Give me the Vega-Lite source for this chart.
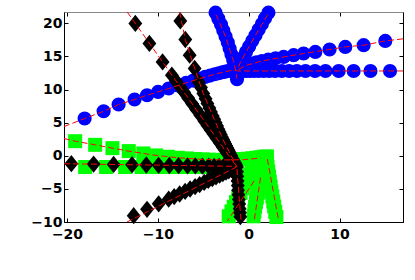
{
  "$schema": "https://vega.github.io/schema/vega-lite/v6.json",
  "width": 339,
  "height": 210,
  "autosize": {"type": "none"},
  "padding": {"left": 64, "top": 12, "right": 12, "bottom": 58},
  "background": "white",
  "config": {
    "view": {"stroke": "#888888", "strokeWidth": 1},
    "axis": {
      "grid": false,
      "domainColor": "#000000",
      "tickColor": "#000000",
      "tickSize": -4,
      "labelFont": "DejaVu Sans",
      "labelFontWeight": "bold",
      "labelFontSize": 14,
      "labelColor": "#000000",
      "title": null
    }
  },
  "datasets": {
    "blue": [
      {"x": -18.06, "y": 5.62}, {"x": -15.97, "y": 6.72}, {"x": -14.32, "y": 7.73}, {"x": -12.56, "y": 8.49}, {"x": -11.19, "y": 9.14}, {"x": -9.98, "y": 9.64}, {"x": -8.81, "y": 10.15}, {"x": -7.8, "y": 10.6}, {"x": -6.9, "y": 11.0}, {"x": -6.1, "y": 11.35}, {"x": -5.4, "y": 11.65}, {"x": -4.8, "y": 11.9}, {"x": -4.25, "y": 12.1}, {"x": -3.75, "y": 12.3}, {"x": -3.3, "y": 12.45}, {"x": -2.9, "y": 12.6}, {"x": -2.55, "y": 12.7}, {"x": -2.25, "y": 12.8}, {"x": -2.0, "y": 12.85}, {"x": -1.8, "y": 12.9}, {"x": -1.6, "y": 12.9}, {"x": -1.45, "y": 12.9},
      {"x": 15.03, "y": 17.34}, {"x": 12.65, "y": 16.69}, {"x": 10.63, "y": 16.43}, {"x": 8.9, "y": 16.04}, {"x": 7.33, "y": 15.68}, {"x": 6.04, "y": 15.44}, {"x": 4.94, "y": 15.18}, {"x": 3.84, "y": 14.92}, {"x": 2.95, "y": 14.7}, {"x": 2.15, "y": 14.5}, {"x": 1.45, "y": 14.3}, {"x": 0.85, "y": 14.1}, {"x": 0.3, "y": 13.9}, {"x": -0.15, "y": 13.7}, {"x": -0.5, "y": 13.5}, {"x": -0.8, "y": 13.3}, {"x": -1.05, "y": 13.1}, {"x": -1.25, "y": 12.95},
      {"x": 15.55, "y": 12.8}, {"x": 13.4, "y": 12.8}, {"x": 11.55, "y": 12.8}, {"x": 9.9, "y": 12.8}, {"x": 8.45, "y": 12.8}, {"x": 7.3, "y": 12.8}, {"x": 6.25, "y": 12.8}, {"x": 5.3, "y": 12.8}, {"x": 4.45, "y": 12.8}, {"x": 3.65, "y": 12.8}, {"x": 2.9, "y": 12.8}, {"x": 2.25, "y": 12.8}, {"x": 1.65, "y": 12.8}, {"x": 1.1, "y": 12.8}, {"x": 0.6, "y": 12.8}, {"x": 0.15, "y": 12.8}, {"x": -0.25, "y": 12.8}, {"x": -0.6, "y": 12.8}, {"x": -0.9, "y": 12.8}, {"x": -1.15, "y": 12.8}, {"x": -1.3, "y": 12.8},
      {"x": -3.65, "y": 21.6}, {"x": -3.35, "y": 20.7}, {"x": -3.05, "y": 19.8}, {"x": -2.8, "y": 18.9}, {"x": -2.55, "y": 18.0}, {"x": -2.3, "y": 17.1}, {"x": -2.1, "y": 16.2}, {"x": -1.9, "y": 15.3}, {"x": -1.7, "y": 14.4}, {"x": -1.55, "y": 13.6}, {"x": -1.42, "y": 12.8}, {"x": -1.35, "y": 12.1}, {"x": -1.29, "y": 11.56},
      {"x": 2.17, "y": 21.6}, {"x": 1.8, "y": 20.75}, {"x": 1.45, "y": 19.9}, {"x": 1.1, "y": 19.05}, {"x": 0.75, "y": 18.2}, {"x": 0.4, "y": 17.35}, {"x": 0.05, "y": 16.5}, {"x": -0.3, "y": 15.65}, {"x": -0.6, "y": 14.85}, {"x": -0.9, "y": 14.15}, {"x": -1.1, "y": 13.5}, {"x": -1.25, "y": 13.0}
    ],
    "green": [
      {"x": -19.1, "y": 2.2}, {"x": -16.9, "y": 1.65}, {"x": -15.0, "y": 1.15}, {"x": -13.2, "y": 0.7}, {"x": -11.6, "y": 0.35}, {"x": -10.2, "y": 0.05}, {"x": -8.9, "y": -0.15}, {"x": -7.8, "y": -0.3}, {"x": -6.8, "y": -0.4}, {"x": -5.9, "y": -0.5}, {"x": -5.1, "y": -0.55}, {"x": -4.4, "y": -0.6}, {"x": -3.75, "y": -0.62}, {"x": -3.15, "y": -0.63}, {"x": -2.6, "y": -0.63}, {"x": -2.1, "y": -0.62}, {"x": -1.6, "y": -0.6}, {"x": -1.1, "y": -0.55}, {"x": -0.6, "y": -0.5}, {"x": -0.1, "y": -0.45}, {"x": 0.4, "y": -0.38}, {"x": 0.85, "y": -0.3}, {"x": 1.3, "y": -0.22}, {"x": 1.7, "y": -0.15}, {"x": 2.0, "y": -0.1},
      {"x": -18.0, "y": -1.7}, {"x": -15.7, "y": -1.7}, {"x": -13.6, "y": -1.7}, {"x": -11.8, "y": -1.7}, {"x": -10.3, "y": -1.7}, {"x": -9.0, "y": -1.7}, {"x": -7.9, "y": -1.7}, {"x": -6.9, "y": -1.7}, {"x": -6.0, "y": -1.7}, {"x": -5.2, "y": -1.7}, {"x": -4.5, "y": -1.7}, {"x": -3.9, "y": -1.7}, {"x": -3.3, "y": -1.7}, {"x": -2.8, "y": -1.7}, {"x": -2.3, "y": -1.7}, {"x": -1.9, "y": -1.7}, {"x": -1.5, "y": -1.7},
      {"x": 1.95, "y": -0.2}, {"x": 2.0, "y": -0.9}, {"x": 2.07, "y": -1.65}, {"x": 2.15, "y": -2.4}, {"x": 2.23, "y": -3.15}, {"x": 2.32, "y": -3.9}, {"x": 2.41, "y": -4.65}, {"x": 2.5, "y": -5.4}, {"x": 2.6, "y": -6.15}, {"x": 2.7, "y": -6.9}, {"x": 2.8, "y": -7.65}, {"x": 2.92, "y": -8.45}, {"x": 3.05, "y": -9.25},
      {"x": 1.2, "y": -0.7}, {"x": 0.8, "y": -1.3},
      {"x": 1.55, "y": -1.4}, {"x": 1.47, "y": -2.1}, {"x": 1.38, "y": -2.8}, {"x": 1.29, "y": -3.5}, {"x": 1.2, "y": -4.2}, {"x": 1.1, "y": -4.9}, {"x": 1.0, "y": -5.6}, {"x": 0.9, "y": -6.3}, {"x": 0.8, "y": -7.0}, {"x": 0.7, "y": -7.7}, {"x": 0.62, "y": -8.4}, {"x": 0.54, "y": -9.14},
      {"x": 0.35, "y": -2.1}, {"x": 0.1, "y": -2.8}, {"x": -0.15, "y": -3.5}, {"x": -0.4, "y": -4.2}, {"x": -0.65, "y": -4.9}, {"x": -0.9, "y": -5.6}, {"x": -1.15, "y": -6.3}, {"x": -1.4, "y": -7.0}, {"x": -1.65, "y": -7.7}, {"x": -1.9, "y": -8.4}, {"x": -2.2, "y": -9.14}
    ],
    "black": [
      {"x": -12.48, "y": 19.97}, {"x": -10.93, "y": 16.96}, {"x": -9.48, "y": 14.16}, {"x": -8.46, "y": 12.17}, {"x": -8.01, "y": 11.3}, {"x": -7.56, "y": 10.43}, {"x": -7.11, "y": 9.57}, {"x": -6.67, "y": 8.7}, {"x": -6.22, "y": 7.84}, {"x": -5.77, "y": 6.97}, {"x": -5.32, "y": 6.1}, {"x": -4.88, "y": 5.23}, {"x": -4.54, "y": 4.58}, {"x": -4.21, "y": 3.93}, {"x": -3.87, "y": 3.28}, {"x": -3.54, "y": 2.63}, {"x": -3.2, "y": 1.98}, {"x": -2.87, "y": 1.33}, {"x": -2.64, "y": 0.9}, {"x": -2.42, "y": 0.47}, {"x": -2.19, "y": 0.03}, {"x": -1.97, "y": -0.4}, {"x": -1.75, "y": -0.83}, {"x": -1.52, "y": -1.27}, {"x": -1.3, "y": -1.7},
      {"x": -7.53, "y": 20.36}, {"x": -6.98, "y": 17.55}, {"x": -6.5, "y": 15.18}, {"x": -5.95, "y": 13.17}, {"x": -5.51, "y": 11.15}, {"x": -5.25, "y": 10.3}, {"x": -5.0, "y": 9.4}, {"x": -4.75, "y": 8.6}, {"x": -4.55, "y": 7.9}, {"x": -4.33, "y": 7.2}, {"x": -4.15, "y": 6.6}, {"x": -3.96, "y": 6.0}, {"x": -3.8, "y": 5.5}, {"x": -3.64, "y": 5.0}, {"x": -3.48, "y": 4.5}, {"x": -3.34, "y": 4.0}, {"x": -3.2, "y": 3.6}, {"x": -3.07, "y": 3.2}, {"x": -2.94, "y": 2.8}, {"x": -2.82, "y": 2.45}, {"x": -2.7, "y": 2.1}, {"x": -2.59, "y": 1.8}, {"x": -2.48, "y": 1.5}, {"x": -2.37, "y": 1.2}, {"x": -2.28, "y": 0.95}, {"x": -2.19, "y": 0.7}, {"x": -2.1, "y": 0.45}, {"x": -2.01, "y": 0.2}, {"x": -1.93, "y": 0.0}, {"x": -1.78, "y": -0.4}, {"x": -1.64, "y": -0.75}, {"x": -1.52, "y": -1.05}, {"x": -1.43, "y": -1.3}, {"x": -1.36, "y": -1.5},
      {"x": -19.52, "y": -1.2}, {"x": -17.07, "y": -1.26}, {"x": -14.87, "y": -1.31}, {"x": -12.84, "y": -1.36}, {"x": -11.27, "y": -1.4}, {"x": -9.92, "y": -1.44}, {"x": -8.74, "y": -1.47}, {"x": -7.72, "y": -1.49}, {"x": -6.73, "y": -1.52}, {"x": -5.88, "y": -1.54}, {"x": -5.1, "y": -1.56}, {"x": -4.4, "y": -1.57}, {"x": -3.8, "y": -1.59}, {"x": -3.25, "y": -1.6}, {"x": -2.75, "y": -1.61}, {"x": -2.3, "y": -1.62}, {"x": -1.9, "y": -1.63}, {"x": -1.6, "y": -1.64}, {"x": -1.4, "y": -1.65},
      {"x": -12.66, "y": -9.04}, {"x": -11.19, "y": -8.09}, {"x": -9.91, "y": -7.26}, {"x": -8.81, "y": -6.55}, {"x": -8.2, "y": -6.16}, {"x": -7.6, "y": -5.77}, {"x": -7.0, "y": -5.38}, {"x": -6.45, "y": -5.02}, {"x": -5.9, "y": -4.67}, {"x": -5.4, "y": -4.35}, {"x": -4.9, "y": -4.02}, {"x": -4.45, "y": -3.73}, {"x": -4.0, "y": -3.44}, {"x": -3.6, "y": -3.18}, {"x": -3.2, "y": -2.93}, {"x": -2.85, "y": -2.7}, {"x": -2.5, "y": -2.47}, {"x": -2.2, "y": -2.28}, {"x": -1.9, "y": -2.09}, {"x": -1.65, "y": -1.93}, {"x": -1.45, "y": -1.8},
      {"x": -1.28, "y": -2.4}, {"x": -1.26, "y": -3.1}, {"x": -1.23, "y": -3.8}, {"x": -1.2, "y": -4.5}, {"x": -1.17, "y": -5.2}, {"x": -1.13, "y": -5.9}, {"x": -1.09, "y": -6.6}, {"x": -1.05, "y": -7.3}, {"x": -1.0, "y": -8.0}, {"x": -0.96, "y": -8.6}, {"x": -0.92, "y": -9.2}
    ],
    "red": [
      {"p": "bA", "i": 0, "x": -20.33, "y": 4.4}, {"p": "bA", "i": 1, "x": -18.06, "y": 5.62}, {"p": "bA", "i": 2, "x": -15.97, "y": 6.72}, {"p": "bA", "i": 3, "x": -14.32, "y": 7.73}, {"p": "bA", "i": 4, "x": -12.56, "y": 8.49}, {"p": "bA", "i": 5, "x": -11.19, "y": 9.14}, {"p": "bA", "i": 6, "x": -9.98, "y": 9.64}, {"p": "bA", "i": 7, "x": -8.81, "y": 10.15}, {"p": "bA", "i": 8, "x": -6.9, "y": 11.0}, {"p": "bA", "i": 9, "x": -4.8, "y": 11.9}, {"p": "bA", "i": 10, "x": -3.3, "y": 12.45}, {"p": "bA", "i": 11, "x": -2.0, "y": 12.85}, {"p": "bA", "i": 12, "x": -1.3, "y": 12.9},
      {"p": "bB", "i": 0, "x": 16.98, "y": 17.65}, {"p": "bB", "i": 1, "x": 15.03, "y": 17.34}, {"p": "bB", "i": 2, "x": 12.65, "y": 16.69}, {"p": "bB", "i": 3, "x": 10.63, "y": 16.43}, {"p": "bB", "i": 4, "x": 8.9, "y": 16.04}, {"p": "bB", "i": 5, "x": 6.04, "y": 15.44}, {"p": "bB", "i": 6, "x": 3.84, "y": 14.92}, {"p": "bB", "i": 7, "x": 1.45, "y": 14.3}, {"p": "bB", "i": 8, "x": -0.15, "y": 13.7}, {"p": "bB", "i": 9, "x": -1.25, "y": 12.95},
      {"p": "bC", "i": 0, "x": 16.98, "y": 12.8}, {"p": "bC", "i": 1, "x": -1.3, "y": 12.8},
      {"p": "bD", "i": 0, "x": -3.6, "y": 21.3}, {"p": "bD", "i": 1, "x": -2.55, "y": 18.0}, {"p": "bD", "i": 2, "x": -1.7, "y": 14.4}, {"p": "bD", "i": 3, "x": -1.42, "y": 12.8}, {"p": "bD", "i": 4, "x": -1.3, "y": 11.6},
      {"p": "bE", "i": 0, "x": 2.1, "y": 21.3}, {"p": "bE", "i": 1, "x": 1.1, "y": 19.05}, {"p": "bE", "i": 2, "x": 0.05, "y": 16.5}, {"p": "bE", "i": 3, "x": -0.9, "y": 14.15}, {"p": "bE", "i": 4, "x": -1.25, "y": 13.0},
      {"p": "gU", "i": 0, "x": -20.33, "y": 2.6}, {"p": "gU", "i": 1, "x": -19.1, "y": 2.2}, {"p": "gU", "i": 2, "x": -16.9, "y": 1.65}, {"p": "gU", "i": 3, "x": -15.0, "y": 1.15}, {"p": "gU", "i": 4, "x": -13.2, "y": 0.7}, {"p": "gU", "i": 5, "x": -11.6, "y": 0.35}, {"p": "gU", "i": 6, "x": -10.2, "y": 0.05}, {"p": "gU", "i": 7, "x": -7.8, "y": -0.3}, {"p": "gU", "i": 8, "x": -5.1, "y": -0.55}, {"p": "gU", "i": 9, "x": -2.6, "y": -0.63}, {"p": "gU", "i": 10, "x": -0.6, "y": -0.6}, {"p": "gU", "i": 11, "x": 1.3, "y": -0.35},
      {"p": "gR", "i": 0, "x": 2.05, "y": -0.5}, {"p": "gR", "i": 1, "x": 3.3, "y": -9.85},
      {"p": "gM", "i": 0, "x": 1.3, "y": -3.3}, {"p": "gM", "i": 1, "x": 0.6, "y": -9.85},
      {"p": "gL", "i": 0, "x": 0.6, "y": -3.8}, {"p": "gL", "i": 1, "x": -2.35, "y": -9.85},
      {"p": "kA", "i": 0, "x": -13.37, "y": 21.7}, {"p": "kA", "i": 1, "x": -1.3, "y": -1.7},
      {"p": "kB", "i": 0, "x": -7.6, "y": 21.7}, {"p": "kB", "i": 1, "x": -6.98, "y": 17.55}, {"p": "kB", "i": 2, "x": -5.95, "y": 13.17}, {"p": "kB", "i": 3, "x": -5.0, "y": 9.4}, {"p": "kB", "i": 4, "x": -3.8, "y": 5.5}, {"p": "kB", "i": 5, "x": -2.7, "y": 2.1}, {"p": "kB", "i": 6, "x": -1.93, "y": 0.0}, {"p": "kB", "i": 7, "x": -1.3, "y": -1.7},
      {"p": "kC", "i": 0, "x": -20.33, "y": -1.2}, {"p": "kC", "i": 1, "x": -1.3, "y": -1.6},
      {"p": "kD", "i": 0, "x": -13.4, "y": -10.0}, {"p": "kD", "i": 1, "x": -1.4, "y": -1.75},
      {"p": "kE", "i": 0, "x": -1.3, "y": -2.0}, {"p": "kE", "i": 1, "x": -0.85, "y": -9.75}
    ]
  },
  "resolve": {"axis": {"x": "independent", "y": "independent"}},
  "layer": [
    {
      "data": {"name": "blue"},
      "mark": {"type": "point", "shape": "circle", "filled": true, "color": "#0000ff", "opacity": 1, "size": 200, "strokeWidth": 0},
      "encoding": {
        "x": {"field": "x", "type": "quantitative", "scale": {"domain": [-20.33, 16.98], "nice": false, "zero": false}, "axis": {"orient": "bottom", "values": [-20, -10, 0, 10], "labelPadding": 9}},
        "y": {"field": "y", "type": "quantitative", "scale": {"domain": [-10, 21.7], "nice": false, "zero": false}, "axis": {"orient": "left", "values": [-10, -5, 0, 5, 10, 15, 20], "labelPadding": 6}}
      }
    },
    {
      "data": {"name": "green"},
      "mark": {"type": "point", "shape": "square", "filled": true, "color": "#00ff00", "opacity": 1, "size": 196, "strokeWidth": 0},
      "encoding": {
        "x": {"field": "x", "type": "quantitative", "axis": null},
        "y": {"field": "y", "type": "quantitative", "axis": null}
      }
    },
    {
      "data": {"name": "black"},
      "mark": {"type": "point", "shape": "M0,-1L0.8,0L0,1L-0.8,0Z", "filled": true, "color": "#000000", "opacity": 1, "size": 300, "strokeWidth": 0},
      "encoding": {
        "x": {"field": "x", "type": "quantitative", "axis": null},
        "y": {"field": "y", "type": "quantitative", "axis": null}
      }
    },
    {
      "data": {"name": "red"},
      "mark": {"type": "line", "color": "#ff0000", "strokeWidth": 1, "strokeDash": [6, 3], "clip": true},
      "encoding": {
        "x": {"field": "x", "type": "quantitative", "axis": {"orient": "top", "values": [-20, -10, 0, 10], "labels": false, "domainColor": "#888888"}},
        "y": {"field": "y", "type": "quantitative", "axis": {"orient": "right", "values": [-10, -5, 0, 5, 10, 15, 20], "labels": false}},
        "detail": {"field": "p", "type": "nominal"},
        "order": {"field": "i", "type": "quantitative"}
      }
    }
  ]
}
